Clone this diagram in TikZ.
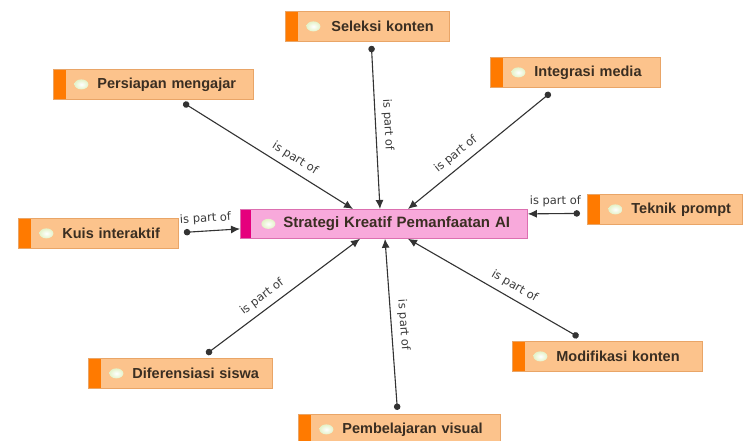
\documentclass[tikz,border=0pt]{standalone}
\usepackage{fontspec}
\setmainfont{Liberation Sans}
\newfontfamily\lblfont{DejaVu Sans}
\usetikzlibrary{arrows.meta,calc}
\definecolor{obox}{HTML}{FCC38C}
\definecolor{oboxd}{HTML}{E9A567}
\definecolor{ostrip}{HTML}{FF7A00}
\definecolor{pbox}{HTML}{F8A9DB}
\definecolor{pboxd}{HTML}{DC6FB0}
\definecolor{pstrip}{HTML}{E5007D}
\definecolor{btext}{HTML}{3A2E22}
\definecolor{ltext}{HTML}{3C3C3C}
\definecolor{lin}{HTML}{333333}
\definecolor{icoglow}{HTML}{E4F2C8}
\begin{document}
\begin{tikzpicture}[x=1pt,y=-1pt,
  box/.style={draw=oboxd, fill=obox, line width=0.8pt, anchor=north west,
    minimum height=30pt, inner xsep=0pt, inner ysep=0pt, text width=#1, align=left,
    font=\bfseries\fontsize{14.5}{16}\selectfont, text=btext,
    path picture={
      \fill[ostrip] (path picture bounding box.south west) rectangle ([xshift=13pt]path picture bounding box.north west);
      \shade[inner color=white, outer color=icoglow] ([xshift=28pt]path picture bounding box.west) ellipse (7pt and 5pt);}},
  cbox/.style={draw=pboxd, fill=pbox, line width=0.8pt, anchor=north west,
    minimum height=29pt, inner xsep=0pt, inner ysep=0pt, text width=#1, align=left,
    font=\bfseries\fontsize{15}{17}\selectfont, text=btext,
    path picture={
      \fill[pstrip] (path picture bounding box.south west) rectangle ([xshift=11pt]path picture bounding box.north west);
      \shade[inner color=white, outer color=icoglow] ([xshift=28pt]path picture bounding box.west) ellipse (7pt and 5pt);}},
  conn/.style={draw=lin, line width=1.1pt, {Circle[length=6.5pt]}-{Latex[length=9pt,width=8pt]}},
  lbl/.style={font=\lblfont\fontsize{11.5}{13}\selectfont, text=ltext, inner sep=1pt, sloped, above=5pt}
]
\useasboundingbox (0,0) rectangle (745,441);
\fill[white] (0,0) rectangle (745,441);

\node[cbox=287pt] (c) at (240,209) {\hspace*{43pt}Strategi Kreatif Pemanfaatan AI};

\node[box=164pt] (sel) at (285,11) {\hspace*{46pt}Seleksi konten};
\node[box=200pt] (per) at (53,69) {\hspace*{44pt}Persiapan mengajar};
\node[box=170pt] (int) at (490,57) {\hspace*{44pt}Integrasi media};
\node[box=160pt] (kuis) at (18,218) {\hspace*{44pt}Kuis interaktif};
\node[box=155pt] (tek) at (587,194) {\hspace*{44pt}Teknik prompt};
\node[box=184pt] (dif) at (88,358) {\hspace*{44pt}Diferensiasi siswa};
\node[box=202pt] (pem) at (298,414) {\hspace*{44pt}Pembelajaran visual};
\node[box=190pt] (mod) at (512,341) {\hspace*{44pt}Modifikasi konten};

\draw[conn] ($(sel.south)+(4,4)$) -- node[lbl, pos=0.49] {is part of} ($(c.north west)+(140,0)$);
\draw[conn] ($(per.south)+(30,3)$) -- node[lbl, pos=0.62] {is part of} ($(c.north west)+(113,0)$);
\draw[conn] ($(int.south)+(-25,5)$) -- node[lbl, pos=0.61] {is part of} ($(c.north west)+(168,0)$);
\draw[conn] ($(kuis.east)+(5,-1)$) -- node[lbl, pos=0.4] {is part of} ($(c.west)+(0,5)$);
\draw[conn] ($(tek.west)+(-7,4)$) -- node[lbl, pos=0.47] {is part of} ($(c.east)+(0,-10)$);
\draw[conn] ($(dif.north)+(26,-4)$) -- node[lbl, pos=0.41] {is part of} ($(c.south west)+(120,0)$);
\draw[conn] ($(pem.north)+(-2,-4)$) -- node[lbl, pos=0.49] {is part of} ($(c.south west)+(145,0)$);
\draw[conn] ($(mod.north)+(-29,-4)$) -- node[lbl, pos=0.41] {is part of} ($(c.south west)+(168,0)$);
\end{tikzpicture}
\end{document}
